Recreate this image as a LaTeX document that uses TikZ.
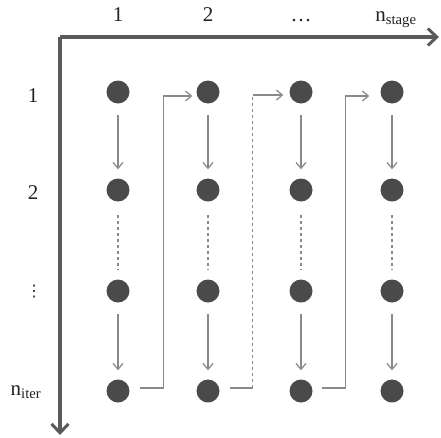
\documentclass[tikz,border=0pt]{standalone}
\usepackage{fontspec}
\setmainfont{Liberation Serif}
\newfontfamily\symfont{DejaVu Sans}
\usetikzlibrary{arrows.meta}
\definecolor{dotgray}{HTML}{4A4A4A}
\definecolor{arrgray}{HTML}{8A8A8A}
\definecolor{axisgray}{HTML}{5A5A5A}
\definecolor{txt}{HTML}{222222}
\tikzset{
  dot/.style={circle,fill=dotgray,draw=none,minimum size=23pt,inner sep=0pt},
  tip/.style={-{Straight Barb[length=6pt,width=10pt,line width=1.2pt]}},
  arr/.style={draw=arrgray,line width=1.3pt,tip},
  sline/.style={draw=arrgray,line width=1.3pt},
  dline/.style={draw=arrgray,line width=1.3pt,dash pattern=on 3.5pt off 2.5pt},
  varr/.style={arr,shorten <=11pt,shorten >=9pt},
  vdash/.style={dline,shorten <=13pt,shorten >=9pt},
  axis/.style={draw=axisgray,line width=3.5pt,-{Straight Barb[length=9pt,width=17pt,line width=3pt]}},
  lbl/.style={text=txt,font=\fontsize{21}{23}\selectfont,inner sep=0pt,anchor=base}
}
\begin{document}
\begin{tikzpicture}[x=1pt,y=-1pt]
\useasboundingbox (0,0) rectangle (441,437);
% axes
\coordinate (O) at (60,37);
\coordinate (X) at (439,37);
\coordinate (Y) at (60,435);
\draw[axis] (O) -- (X);
\draw[axis] (O) -- (Y);
% top labels
\node[lbl] (c1) at (118,21) {1};
\node[lbl] (c2) at (208,21) {2};
\node[lbl] (c3) at (301,21) {…};
\node[lbl] (c4) at (396,21) {n\textsubscript{stage}};
% left labels
\node[lbl] (r1) at (33,102) {1};
\node[lbl] (r2) at (33,199) {2};
\node[lbl,anchor=center,font=\symfont\fontsize{16}{18}\selectfont] (r3) at (34,292) {⋮};
\node[lbl] (r4) at (26,395) {n\textsubscript{iter}};
% dots
\foreach \c/\x in {1/118,2/208,3/301,4/392}{
  \foreach \r/\y in {1/92,2/190,3/291,4/391}{
    \node[dot] (n\r\c) at (\x,\y) {};
  }
}
% iteration connectors
\foreach \c in {1,2,3,4}{
  \draw[varr] (n1\c) -- (n2\c);
  \draw[vdash] (n2\c) -- (n3\c);
  \draw[varr] (n3\c) -- (n4\c);
}
% stage connectors
\draw[arr] ([shift={(10,-3)}]n41.east) -- ++(24,0) |- ([shift={(-4,4)}]n12.west);
\coordinate (s2) at ([shift={(10,-3)}]n42.east);
\coordinate (b2) at ([shift={(33,-3)}]n42.east);
\coordinate (a2) at ([shift={(-6,3)}]n13.west);
\coordinate (t2) at (b2 |- a2);
\draw[sline] (s2) -- (b2);
\draw[dline] (b2) -- (t2);
\draw[arr] (t2) -- (a2);
\draw[arr] ([shift={(9,-3)}]n43.east) -- ++(24,0) |- ([shift={(-11,4)}]n14.west);
\end{tikzpicture}
\end{document}
